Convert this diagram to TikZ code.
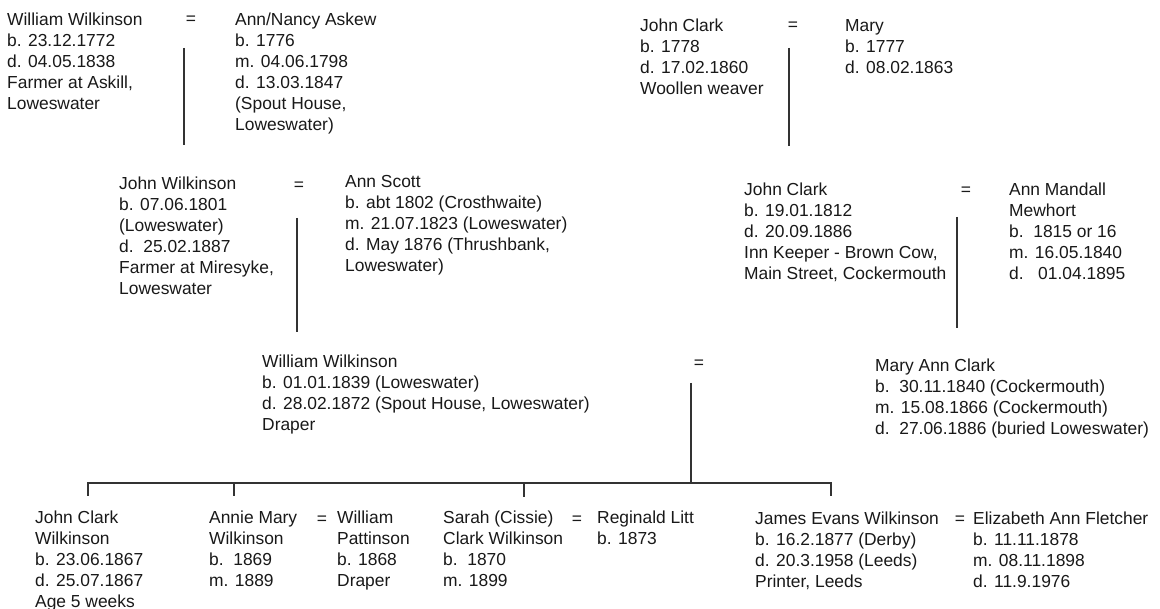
\documentclass[tikz,border=0pt]{standalone}
\usepackage{fontspec}
\setmainfont{Liberation Sans}
\begin{document}
\begin{tikzpicture}[x=1pt,y=-1pt,
  person/.style={anchor=north west, inner sep=0pt, align=left, text=black!90},
  marr/.style={anchor=base, inner sep=0pt, text=black!90},
  line/.style={draw=black!80, line width=1.8pt}]
\useasboundingbox[fill=white] (0,0) rectangle (1160,609);
\fontsize{17.4}{21}\selectfont
% generation 1
\node[person] (ww1) at (7,10.3) {\strut William Wilkinson\\b. 23.12.1772\\d. 04.05.1838\\Farmer at Askill,\\Loweswater};
\node[marr] (e1) at (191,25) {=};
\node[person] (ana) at (235,10.3) {\strut Ann/Nancy Askew\\b. 1776\\m. 04.06.1798\\d. 13.03.1847\\(Spout House,\\Loweswater)};
\node[person] (jc1) at (640,16.3) {\strut John Clark\\b. 1778\\d. 17.02.1860\\Woollen weaver};
\node[marr] (e2) at (793,31) {=};
\node[person] (mary) at (845,16.3) {\strut Mary\\b. 1777\\d. 08.02.1863};
% generation 2
\node[person] (jw) at (119,174.3) {\strut John Wilkinson\\b. 07.06.1801\\(Loweswater)\\d.\ \ 25.02.1887\\Farmer at Miresyke,\\Loweswater};
\node[marr] (e3) at (299,190.5) {=};
\node[person] (as) at (345,172.3) {\strut Ann Scott\\b. abt 1802 (Crosthwaite)\\m. 21.07.1823 (Loweswater)\\d. May 1876 (Thrushbank,\\Loweswater)};
\node[person] (jc2) at (744,180.3) {\strut John Clark\\b. 19.01.1812\\d. 20.09.1886\\Inn Keeper - Brown Cow,\\Main Street, Cockermouth};
\node[marr] (e4) at (966,196) {=};
\node[person] (amm) at (1009,180.3) {\strut Ann Mandall\\Mewhort\\b.\ \ 1815 or 16\\m. 16.05.1840\\d.\ \ \ 01.04.1895};
% generation 3
\node[person] (ww2) at (262,352.3) {\strut William Wilkinson\\b. 01.01.1839 (Loweswater)\\d. 28.02.1872 (Spout House, Loweswater)\\Draper};
\node[marr] (e5) at (699,368.5) {=};
\node[person] (mac) at (875,356.3) {\strut Mary Ann Clark\\b.\ \ 30.11.1840 (Cockermouth)\\m. 15.08.1866 (Cockermouth)\\d.\ \ 27.06.1886 (buried Loweswater)};
% generation 4
\node[person] (jcw) at (35,508.3) {\strut John Clark\\Wilkinson\\b. 23.06.1867\\d. 25.07.1867\\Age 5 weeks};
\node[person] (amw) at (209,508.3) {\strut Annie Mary\\Wilkinson\\b.\ \ 1869\\m. 1889};
\node[marr] (e6) at (322,524.5) {=};
\node[person] (wp) at (337,508.3) {\strut William\\Pattinson\\b. 1868\\Draper};
\node[person] (scw) at (443,508.3) {\strut Sarah (Cissie)\\Clark Wilkinson\\b.\ \ 1870\\m. 1899};
\node[marr] (e7) at (577,524.5) {=};
\node[person] (rl) at (597,508.3) {\strut Reginald Litt\\b. 1873};
\node[person] (jew) at (755,509.3) {\strut James Evans Wilkinson\\b. 16.2.1877 (Derby)\\d. 20.3.1958 (Leeds)\\Printer, Leeds};
\node[marr] (e8) at (960,524.5) {=};
\node[person] (eaf) at (973,509.3) {\strut Elizabeth Ann Fletcher\\b. 11.11.1878\\m. 08.11.1898\\d. 11.9.1976};
% connector points
\coordinate (l1t) at (184,48);  \coordinate (l1b) at (184,145);
\coordinate (l2t) at (789,48);  \coordinate (l2b) at (789,146);
\coordinate (l3t) at (297,218); \coordinate (l3b) at (297,332);
\coordinate (l4t) at (957,217); \coordinate (l4b) at (957,328);
\coordinate (l5t) at (691,383); \coordinate (l5b) at (691,483);
\coordinate (hL) at (88,483);   \coordinate (hR) at (831,483);
\coordinate (c1) at (88,496);   \coordinate (c4) at (831,496);
\coordinate (t2a) at (234,483); \coordinate (t2b) at (234,496);
\coordinate (t3a) at (524,483); \coordinate (t3b) at (524,497);
% connectors
\draw[line] (l1t) -- (l1b);
\draw[line] (l2t) -- (l2b);
\draw[line] (l3t) -- (l3b);
\draw[line] (l4t) -- (l4b);
\draw[line] (l5t) -- (l5b);
\draw[line] (c1) -- (hL) -- (hR) -- (c4);
\draw[line] (t2a) -- (t2b);
\draw[line] (t3a) -- (t3b);
\end{tikzpicture}
\end{document}
